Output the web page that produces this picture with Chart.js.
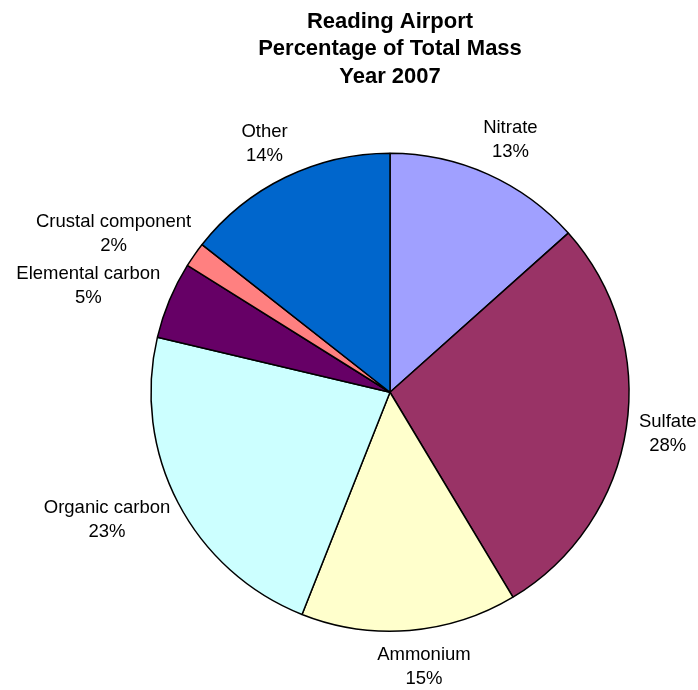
<!DOCTYPE html>
<html>
<head>
<meta charset="utf-8">
<script src="https://cdn.jsdelivr.net/npm/chart.js@4.4.1/dist/chart.umd.min.js"></script>
<style>
  html, body { margin: 0; padding: 0; background: #fff; }
  #wrap { width: 698px; height: 690px; }
</style>
</head>
<body>
<div id="wrap"><canvas id="massChart" width="698" height="690"></canvas></div>
<script>
const categories = ["Nitrate", "Sulfate", "Ammonium", "Organic carbon", "Elemental carbon", "Crustal component", "Other"];
const massShare = [13.4, 28.0, 14.6, 22.7, 5.2, 1.7, 14.4];
const percentLabels = ["13%", "28%", "15%", "23%", "5%", "2%", "14%"];
const sliceColors = ["#A0A0FF", "#993366", "#FFFFCC", "#CCFFFF", "#660066", "#FF8080", "#0066CC"];

// draws "name / pct" outside each slice, pushed out along the slice's mid angle
const outsideLabels = {
  id: "outsideLabels",
  afterDatasetsDraw(chart) {
    const ctx = chart.ctx;
    const meta = chart.getDatasetMeta(0);
    ctx.save();
    ctx.font = "18.5px 'Liberation Sans', Arial, sans-serif";
    ctx.fillStyle = "#000";
    ctx.textAlign = "center";
    ctx.textBaseline = "middle";
    const lineH = 24;
    meta.data.forEach((arc, i) => {
      const mid = (arc.startAngle + arc.endAngle) / 2;
      const d = arc.outerRadius + 13;
      const px = arc.x + Math.cos(mid) * d;
      const py = arc.y + Math.sin(mid) * d;
      const lines = [categories[i], percentLabels[i]];
      const w = Math.max(...lines.map((t) => ctx.measureText(t).width));
      const h = lines.length * lineH;
      const c = Math.cos(mid);
      const cx = px + (w / 2) * Math.sign(c) * Math.sqrt(Math.abs(c));
      const cy = py + (h / 2) * Math.sin(mid);
      lines.forEach((t, k) => {
        ctx.fillText(t, cx, cy - h / 2 + lineH / 2 + k * lineH);
      });
    });
    ctx.restore();
  },
};

const ctx = document.getElementById("massChart").getContext("2d");
window.chart1 = new Chart(ctx, {
  type: "pie",
  data: {
    labels: categories,
    datasets: [
      {
        data: massShare,
        backgroundColor: sliceColors,
        borderColor: "#000",
        borderWidth: 1.5,
        hoverOffset: 0,
      },
    ],
  },
  options: {
    responsive: false,
    animation: false,
    layout: {
      padding: { left: 150, right: 68, top: 0, bottom: 58 },
    },
    plugins: {
      title: {
        display: true,
        text: ["Reading Airport", "Percentage of Total Mass", "Year 2007"],
        color: "#000",
        font: { family: "'Liberation Sans', Arial, sans-serif", size: 22, weight: "bold", lineHeight: 1.25 },
        padding: { top: 8, bottom: 62 },
      },
      legend: { display: false },
      tooltip: { enabled: false },
    },
  },
  plugins: [outsideLabels],
});
</script>
</body>
</html>
